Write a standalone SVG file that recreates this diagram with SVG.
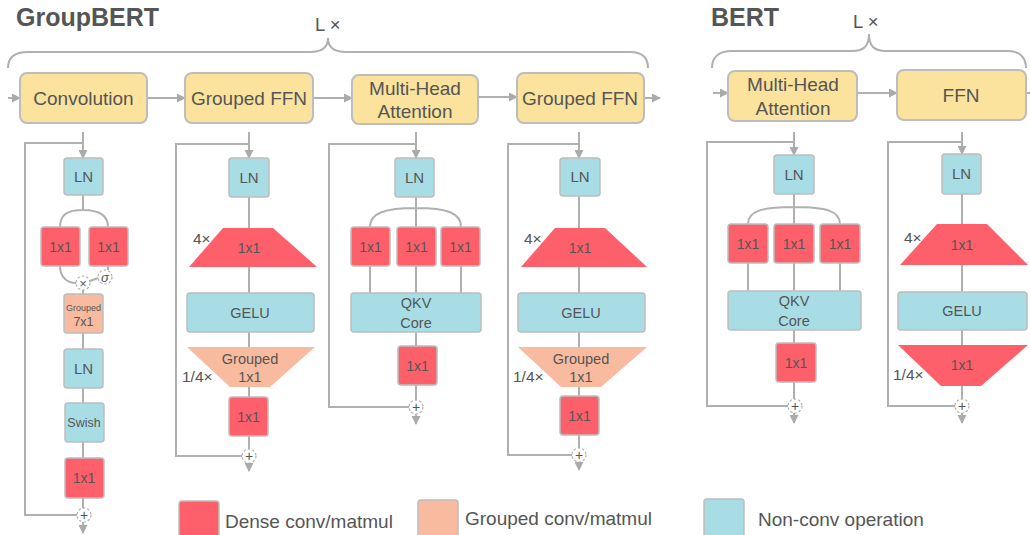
<svg xmlns="http://www.w3.org/2000/svg" width="1030" height="535" viewBox="0 0 1030 535">
<defs>
<marker id="ah" markerWidth="9" markerHeight="9" refX="8" refY="4.5" orient="auto" markerUnits="userSpaceOnUse">
<path d="M0,0 L9,4.5 L0,9 z" fill="#aaaaaa"/>
</marker>
<style>
text{font-family:"Liberation Sans",Arial,sans-serif;fill:#555;}
.t{font-weight:bold;font-size:25px;}
.big{font-size:19px;text-anchor:middle;}
.m{font-size:14.5px;text-anchor:middle;}
.s{font-size:15.5px;}
.lg{font-size:19px;}
.yel{fill:#FBE39D;stroke:#BDBDBD;stroke-width:2;}
.red{fill:#FE606B;stroke:#BDBDBD;stroke-width:1.5;}
.sal{fill:#F9BBA0;stroke:#BDBDBD;stroke-width:1.5;}
.blu{fill:#A9DDE6;stroke:#BDBDBD;stroke-width:1.5;}
.redt{fill:#FE606B;}
.salt{fill:#F9BBA0;}
.ln{fill:none;stroke:#B0B0B0;stroke-width:2;}
.ar{fill:none;stroke:#B0B0B0;stroke-width:2;marker-end:url(#ah);}
.op{fill:#fff;stroke:#B0B0B0;stroke-width:1.2;stroke-dasharray:2.5,2;}
</style>
</defs>
<rect width="1030" height="535" fill="#fff"/>

<!-- titles & braces -->
<text class="t" x="16" y="26">GroupBERT</text>
<text class="t" x="711" y="26">BERT</text>
<text x="315" y="31" style="font-size:18.5px">L ×</text>
<text x="853" y="28" style="font-size:18.5px">L ×</text>
<path class="ln" d="M8,68 C8,58 14,52 28,52 L310,52 C322,52 328,48 328,38 C328,48 334,52 346,52 L630,52 C642,52 648,58 648,68"/>
<path class="ln" d="M712,68 C712,58 718,51 732,51 L852,51 C864,51 869,46 869,34 C869,46 874,51 886,51 L1008,51 C1020,51 1026,58 1026,68"/>

<!-- connectors -->
<g id="connectors">
<path class="ar" d="M8,98 L20,98"/>
<path class="ar" d="M147,98 L185,98"/>
<path class="ar" d="M313,98 L352,98"/>
<path class="ar" d="M478,97 L517,97"/>
<path class="ar" d="M644,98 L660,98"/>
<path class="ar" d="M713,93 L728,93"/>
<path class="ar" d="M857,93 L897,93"/>
<path class="ln" d="M1026,93 L1030,93"/>

<!-- conv column -->
<path class="ar" d="M83,132 L83,158"/>
<path class="ln" d="M83,143 L25,143 L25,515 L77,515"/>
<path class="ln" d="M83,195 L83,210 M60,227 C60,214 68,210 83,210 C98,210 108,214 108,227"/>
<path class="ln" d="M60,266 C60,278 68,283 76,283 M108,266 L108,270 M90,281 L98,278"/>
<path class="ln" d="M83,290 L83,294 M83,333 L83,349 M83,388 L83,403 M83,442 L83,458 M83,498 L83,508"/>
<path class="ar" d="M83,522 L83,533"/>

<!-- grouped ffn column -->
<path class="ar" d="M249,132 L249,158"/>
<path class="ln" d="M249,144 L176,144 L176,456 L242,456"/>
<path class="ln" d="M249,197 L249,228 M249,267 L249,293 M249,332 L249,347 M249,387 L249,397 M249,436 L249,449"/>
<path class="ar" d="M249,463 L249,471"/>

<!-- mha column -->
<path class="ar" d="M416,132 L416,158"/>
<path class="ln" d="M416,144 L329,144 L329,407 L409,407"/>
<path class="ln" d="M416,197 L416,227 M370,227 C370,213 385,208 416,208 C447,208 461,213 461,227"/>
<path class="ln" d="M370,266 L370,293 M416,266 L416,293 M461,266 L461,293 M416,332 L416,346 M416,385 L416,400"/>
<path class="ar" d="M416,414 L416,424"/>

<!-- grouped ffn 2 column -->
<path class="ar" d="M579,132 L579,158"/>
<path class="ln" d="M579,144 L508,144 L508,455 L572,455"/>
<path class="ln" d="M579,196 L579,228 M579,267 L579,293 M579,332 L579,347 M579,387 L579,396 M579,435 L579,448"/>
<path class="ar" d="M579,462 L579,470"/>

<!-- bert mha column -->
<path class="ar" d="M794,132 L794,155"/>
<path class="ln" d="M794,142 L707,142 L707,406 L788,406"/>
<path class="ln" d="M794,194 L794,224 M748,224 C748,211 762,207 794,207 C826,207 840,211 840,224"/>
<path class="ln" d="M748,263 L748,291 M794,263 L794,291 M840,263 L840,291 M794,330 L794,343 M794,382 L794,399"/>
<path class="ar" d="M794,413 L794,423"/>

<!-- bert ffn column -->
<path class="ar" d="M962,132 L962,154"/>
<path class="ln" d="M962,142 L888,142 L888,406 L955,406"/>
<path class="ln" d="M962,194 L962,224 M962,265 L962,292 M962,330 L962,345 M962,386 L962,399"/>
<path class="ar" d="M962,413 L962,423"/>
</g>

<!-- top blocks -->
<g id="conv"><rect class="yel" x="20" y="73" width="127" height="50" rx="7"/><text class="big" x="83.5" y="105">Convolution</text></g>
<g id="gffn1"><rect class="yel" x="185" y="73" width="128" height="50" rx="7"/><text class="big" x="249" y="105">Grouped FFN</text></g>
<g id="mha1"><rect class="yel" x="352" y="75" width="126" height="49" rx="7"/><text class="big" x="415" y="95">Multi-Head</text><text class="big" x="415" y="118">Attention</text></g>
<g id="gffn2"><rect class="yel" x="517" y="73" width="127" height="50" rx="7"/><text class="big" x="580" y="105">Grouped FFN</text></g>
<g id="bmha"><rect class="yel" x="728" y="71" width="129" height="50" rx="7"/><text class="big" x="793" y="91">Multi-Head</text><text class="big" x="793" y="115">Attention</text></g>
<g id="bffn"><rect class="yel" x="897" y="70" width="129" height="50" rx="7"/><text class="big" x="961" y="102">FFN</text></g>

<!-- conv column nodes -->
<g id="c_ln1"><rect class="blu" x="64" y="158" width="39" height="37" rx="3"/><text class="m" x="83.5" y="182" style="font-size:15px">LN</text></g>
<g id="c_1x1a"><rect class="red" x="41" y="227" width="39" height="39" rx="3"/><text class="m" x="60.5" y="252" style="font-size:14px">1x1</text></g>
<g id="c_1x1b"><rect class="red" x="89" y="227" width="39" height="39" rx="3"/><text class="m" x="108.5" y="252" style="font-size:14px">1x1</text></g>
<g id="c_mul"><circle class="op" cx="83" cy="283" r="7"/><text class="m" x="83" y="288" style="font-size:13px">×</text></g>
<g id="c_sig"><circle class="op" cx="105" cy="277" r="7"/><text class="m" x="105" y="282" style="font-size:13px;font-style:italic">σ</text></g>
<g id="c_g7"><rect class="sal" x="64" y="294" width="39" height="39" rx="3"/><text class="m" x="83.5" y="311" style="font-size:9px">Grouped</text><text class="m" x="83.5" y="326" style="font-size:12.5px">7x1</text></g>
<g id="c_ln2"><rect class="blu" x="64" y="349" width="39" height="39" rx="3"/><text class="m" x="83.5" y="374" style="font-size:15px">LN</text></g>
<g id="c_swish"><rect class="blu" x="65" y="403" width="39" height="39" rx="3"/><text class="m" x="84" y="427" style="font-size:12.5px">Swish</text></g>
<g id="c_1x1c"><rect class="red" x="65" y="458" width="39" height="40" rx="3"/><text class="m" x="84" y="483" style="font-size:14px">1x1</text></g>
<g id="c_add"><circle class="op" cx="84" cy="515" r="7"/><text class="m" x="84" y="520" style="font-size:14px">+</text></g>

<!-- grouped ffn column nodes -->
<g id="g1_ln"><rect class="blu" x="229" y="158" width="40" height="39" rx="3"/><text class="m" x="249" y="183" style="font-size:15px">LN</text></g>
<g id="g1_up"><polygon class="redt" points="223,228 273,228 317,267 189,267"/><text class="m" x="249" y="253" style="font-size:14px">1x1</text><text class="s" x="193" y="244">4×</text></g>
<g id="g1_gelu"><rect class="blu" x="187" y="293" width="127" height="39" rx="3"/><text class="m" x="250" y="318">GELU</text></g>
<g id="g1_down"><polygon class="salt" points="187,347 315,347 270,387 230,387"/><text class="m" x="250" y="364">Grouped</text><text class="m" x="250" y="382">1x1</text><text class="s" x="182" y="382">1/4×</text></g>
<g id="g1_1x1"><rect class="red" x="229" y="397" width="39" height="39" rx="3"/><text class="m" x="248.5" y="422" style="font-size:14px">1x1</text></g>
<g id="g1_add"><circle class="op" cx="249" cy="456" r="7"/><text class="m" x="249" y="461" style="font-size:14px">+</text></g>

<!-- mha column nodes -->
<g id="m_ln"><rect class="blu" x="395" y="158" width="39" height="39" rx="3"/><text class="m" x="414.5" y="183" style="font-size:15px">LN</text></g>
<g id="m_q"><rect class="red" x="351" y="227" width="39" height="39" rx="3"/><text class="m" x="370.5" y="252" style="font-size:14px">1x1</text></g>
<g id="m_k"><rect class="red" x="397" y="227" width="39" height="39" rx="3"/><text class="m" x="416.5" y="252" style="font-size:14px">1x1</text></g>
<g id="m_v"><rect class="red" x="441" y="227" width="39" height="39" rx="3"/><text class="m" x="460.5" y="252" style="font-size:14px">1x1</text></g>
<g id="m_core"><rect class="blu" x="351" y="293" width="130" height="39" rx="3"/><text class="m" x="416" y="308">QKV</text><text class="m" x="416" y="328">Core</text></g>
<g id="m_out"><rect class="red" x="398" y="346" width="39" height="39" rx="3"/><text class="m" x="417.5" y="371" style="font-size:14px">1x1</text></g>
<g id="m_add"><circle class="op" cx="416" cy="407" r="7"/><text class="m" x="416" y="412" style="font-size:14px">+</text></g>

<!-- grouped ffn 2 column nodes -->
<g id="g2_ln"><rect class="blu" x="560" y="158" width="40" height="38" rx="3"/><text class="m" x="580" y="182" style="font-size:15px">LN</text></g>
<g id="g2_up"><polygon class="redt" points="555,228 605,228 647,267 521,267"/><text class="m" x="580" y="253" style="font-size:14px">1x1</text><text class="s" x="524" y="244">4×</text></g>
<g id="g2_gelu"><rect class="blu" x="518" y="293" width="127" height="39" rx="3"/><text class="m" x="581" y="318">GELU</text></g>
<g id="g2_down"><polygon class="salt" points="518,347 647,347 601,387 561,387"/><text class="m" x="581" y="364">Grouped</text><text class="m" x="581" y="382">1x1</text><text class="s" x="513" y="382">1/4×</text></g>
<g id="g2_1x1"><rect class="red" x="560" y="396" width="39" height="39" rx="3"/><text class="m" x="579.5" y="421" style="font-size:14px">1x1</text></g>
<g id="g2_add"><circle class="op" cx="579" cy="455" r="7"/><text class="m" x="579" y="460" style="font-size:14px">+</text></g>

<!-- bert mha column nodes -->
<g id="b_ln"><rect class="blu" x="774" y="155" width="40" height="39" rx="3"/><text class="m" x="794" y="180" style="font-size:15px">LN</text></g>
<g id="b_q"><rect class="red" x="728" y="224" width="40" height="39" rx="3"/><text class="m" x="748" y="249" style="font-size:14px">1x1</text></g>
<g id="b_k"><rect class="red" x="774" y="224" width="40" height="39" rx="3"/><text class="m" x="794" y="249" style="font-size:14px">1x1</text></g>
<g id="b_v"><rect class="red" x="820" y="224" width="40" height="39" rx="3"/><text class="m" x="840" y="249" style="font-size:14px">1x1</text></g>
<g id="b_core"><rect class="blu" x="728" y="291" width="133" height="39" rx="3"/><text class="m" x="794" y="306">QKV</text><text class="m" x="794" y="326">Core</text></g>
<g id="b_out"><rect class="red" x="776" y="343" width="40" height="39" rx="3"/><text class="m" x="796" y="368" style="font-size:14px">1x1</text></g>
<g id="b_add"><circle class="op" cx="795" cy="406" r="7"/><text class="m" x="795" y="411" style="font-size:14px">+</text></g>

<!-- bert ffn column nodes -->
<g id="bf_ln"><rect class="blu" x="942" y="154" width="39" height="40" rx="3"/><text class="m" x="961.5" y="179" style="font-size:15px">LN</text></g>
<g id="bf_up"><polygon class="redt" points="937,224 987,224 1028,265 900,265"/><text class="m" x="962" y="250" style="font-size:14px">1x1</text><text class="s" x="904" y="243">4×</text></g>
<g id="bf_gelu"><rect class="blu" x="898" y="292" width="129" height="38" rx="3"/><text class="m" x="962" y="316">GELU</text></g>
<g id="bf_down"><polygon class="redt" points="898,345 1028,345 981,386 941,386"/><text class="m" x="962" y="370" style="font-size:14px">1x1</text><text class="s" x="893" y="380">1/4×</text></g>
<g id="bf_add"><circle class="op" cx="962" cy="406" r="7"/><text class="m" x="962" y="411" style="font-size:14px">+</text></g>

<!-- legend -->
<g id="legend">
<rect class="red" x="179" y="501" width="40" height="40" rx="3"/><text class="lg" x="225" y="528">Dense conv/matmul</text>
<rect class="sal" x="418" y="500" width="40" height="40" rx="3"/><text class="lg" x="465" y="525">Grouped conv/matmul</text>
<rect class="blu" x="704" y="499" width="40" height="40" rx="3"/><text class="lg" x="758" y="526">Non-conv operation</text>
</g>
</svg>
